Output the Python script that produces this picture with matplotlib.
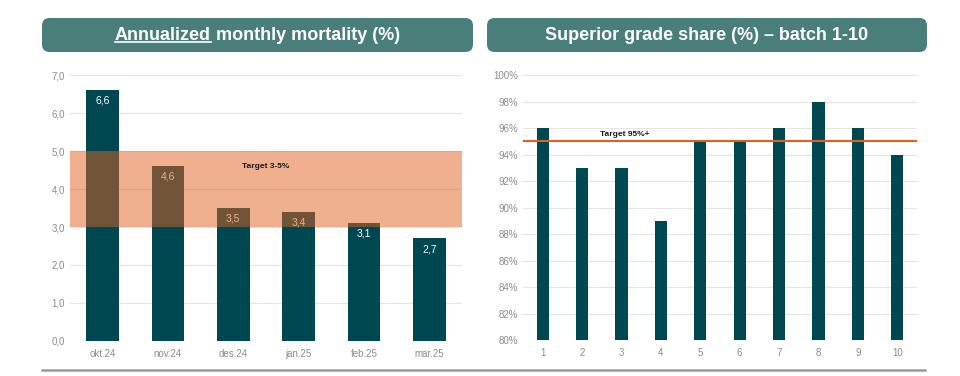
"""Mortality and superior grade share — two panel dashboard chart."""

import matplotlib.pyplot as plt
from matplotlib.patches import FancyBboxPatch
from matplotlib.lines import Line2D

plt.rcParams["font.family"] = ["Liberation Sans", "DejaVu Sans"]

# ── Data ────────────────────────────────────────────────────────────────────

MONTHS = ["okt.24", "nov.24", "des.24", "jan.25", "feb.25", "mar.25"]
MORTALITY = [6.6, 4.6, 3.5, 3.4, 3.1, 2.7]
MORT_TARGET = (3.0, 5.0)

BATCHES = ["1", "2", "3", "4", "5", "6", "7", "8", "9", "10"]
SUPERIOR = [96, 93, 93, 89, 95, 95, 96, 98, 96, 94]
SUP_TARGET = 95

# ── Style ───────────────────────────────────────────────────────────────────

_BAR = "#004851"
_HEAD = "#4A7E7B"
_ORANGE = "#E2601E"
_GRID = "#E4E4E4"
_TICK = "#8C8C8C"


def _style_axis(ax):
    for sp in ax.spines.values():
        sp.set_visible(False)
    ax.tick_params(length=0, colors=_TICK, labelsize=7)
    ax.yaxis.grid(True, color=_GRID, linewidth=0.8)
    ax.set_axisbelow(True)


def _header(fig, x0, x1, y0, y1):
    W, H = fig.get_size_inches() * fig.dpi
    box = FancyBboxPatch(
        (x0 / W, 1 - y1 / H), (x1 - x0) / W, (y1 - y0) / H,
        boxstyle="round,pad=0,rounding_size=0.008",
        transform=fig.transFigure, facecolor=_HEAD, edgecolor="none",
        mutation_aspect=W / H,
    )
    fig.add_artist(box)
    return (x0 + x1) / 2 / W, 1 - (y0 + y1) / 2 / H


fig = plt.figure(figsize=(9.6, 3.76), dpi=100)

# ── Left: mortality ─────────────────────────────────────────────────────────

ax1 = fig.add_axes([0.0729, 0.0931, 0.4083, 0.7074])
_style_axis(ax1)
x1 = range(len(MONTHS))
ax1.bar(x1, MORTALITY, width=0.5, color=_BAR, zorder=2)
for i, v in enumerate(MORTALITY):
    ax1.text(i, v - 0.28, f"{v:.1f}".replace(".", ","), ha="center",
             va="center", color="white", fontsize=7.5, zorder=3)
ax1.axhspan(*MORT_TARGET, color=_ORANGE, alpha=0.5, linewidth=0, zorder=4)
ax1.text(2.5, 4.6, "Target 3-5%", ha="center", va="center",
         fontsize=6, fontweight="bold", color="#1a1a1a", zorder=5)
ax1.set_xlim(-0.5, len(MONTHS) - 0.5)
ax1.set_ylim(0, 7)
ax1.set_yticks(range(0, 8))
ax1.set_yticklabels([f"{v},0" for v in range(0, 8)])
ax1.set_xticks(list(x1))
ax1.set_xticklabels(MONTHS)
ax1.tick_params(axis="x", pad=6)

# ── Right: superior share ───────────────────────────────────────────────────

ax2 = fig.add_axes([0.5448, 0.0957, 0.4104, 0.7048])
_style_axis(ax2)
x2 = range(len(BATCHES))
ax2.bar(x2, [v - 80 for v in SUPERIOR], bottom=80, width=0.31,
        color=_BAR, zorder=2)
ax2.axhline(SUP_TARGET, color=_ORANGE, linewidth=1.5, zorder=3)
ax2.text(2.07, 95.5, "Target 95%+", ha="center", va="center",
         fontsize=6, fontweight="bold", color="#1a1a1a", zorder=5)
ax2.set_xlim(-0.5, len(BATCHES) - 0.5)
ax2.set_ylim(80, 100)
ax2.set_yticks(range(80, 101, 2))
ax2.set_yticklabels([f"{v}%" for v in range(80, 101, 2)])
ax2.set_xticks(list(x2))
ax2.set_xticklabels(BATCHES)
ax2.tick_params(axis="x", pad=6)

# ── Headers ─────────────────────────────────────────────────────────────────

cx1, cy1 = _header(fig, 42, 473, 18, 52)
cx2, cy2 = _header(fig, 487, 927, 18, 52)

fig.text(cx2, cy2, "Superior grade share (%) – batch 1-10", ha="center",
         va="center", color="white", fontsize=13, fontweight="bold")

# left title with underlined first word
kw = dict(va="center", color="white", fontsize=13, fontweight="bold")
t_a = fig.text(0, cy1, "Annualized", ha="left", **kw)
t_b = fig.text(0, cy1, " monthly mortality (%)", ha="left", **kw)
rend = fig.canvas.get_renderer()
wa = t_a.get_window_extent(rend).width / fig.bbox.width
wb = t_b.get_window_extent(rend).width / fig.bbox.width
start = cx1 - (wa + wb) / 2
t_a.set_x(start)
t_b.set_x(start + wa)
bb = t_a.get_window_extent(rend).transformed(fig.transFigure.inverted())
uy = bb.y0 + 0.004
fig.add_artist(Line2D([bb.x0, bb.x1], [uy, uy], color="white",
                      linewidth=1.2, transform=fig.transFigure))

# bottom rule
W, H = fig.bbox.width, fig.bbox.height
fig.add_artist(Line2D([42 / W, 925 / W], [1 - 370 / H] * 2, color="#9A9A9A",
                      linewidth=1.8, transform=fig.transFigure))

fig.savefig("out.png", dpi=100, facecolor="white")
